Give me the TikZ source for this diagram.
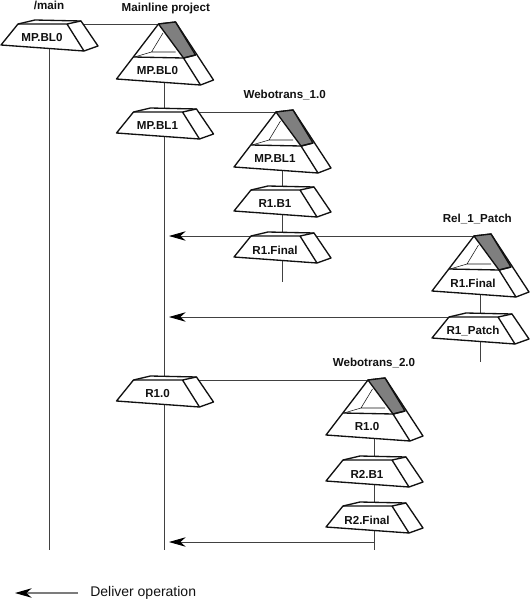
\documentclass[tikz,border=0pt]{standalone}
\usepackage{fontspec}
\setmainfont{Liberation Sans}
\usetikzlibrary{arrows.meta,positioning,backgrounds}
\definecolor{ink}{HTML}{111111}
\definecolor{wedge}{HTML}{7F7F7F}
\tikzset{
 outline/.style={draw=ink,line width=1pt,line join=round,fill=white},
 link/.style={draw=ink!80,line width=.6pt},
 deliver/.style={link,-{Stealth[length=4.4mm,width=2.5mm,inset=1.4mm,color=black]}},
 tag/.style={font=\fontsize{8.7}{10}\selectfont\bfseries,text=ink,inner sep=0pt},
 title/.style={tag,above=8.5pt},
 blbox/.pic={
  \draw[outline] (-31,0)--(-14,-4)--(32,-3)--(49,22)--(35,27)--(-48,21)--cycle;
  \draw[outline,fill=none] (-31,0)--(18,0)--(35,27) (18,0)--(32,-3);
  \node[tag] (-label) at (-7,14) {#1};
  \coordinate (-side) at (28,0);
  \coordinate (-west) at (-31,0);
  \coordinate (-stem) at (0,0);
 },
 stream/.pic={
  \draw[outline] (-6,-33)--(11,-35)--(49,23)--(36,28)--(-48,22)--cycle;
  \draw[draw=ink,line width=1pt,fill=wedge,line join=round] (-6,-33)--(11,-35)--(31,-2)--(19,1)--cycle;
  \draw[ink,line width=.4pt] (-30,0)--(-13,-5)--(-1.5,-24) (-13,-5)--(11,-5);
  \draw[outline,fill=none] (-31,0)--(19,1)--(36,28) (19,1)--(31,-2);
  \node[tag] (-label) at (-7,14) {#1};
  \coordinate (-apex) at (-6,-33);
  \coordinate (-top) at (0,-33);
  \coordinate (-stem) at (0,0);
 }
}
\begin{document}
\begin{tikzpicture}[x=.75pt,y=-.75pt]
 \useasboundingbox (0,0) rectangle (531,600);
 % main stream
 \pic (main) at (49,24) {blbox=MP.BL0};
 \pic (ml) at (164.5,57) {stream=MP.BL0};
 \pic (bla) at (164.5,112) {blbox=MP.BL1};
 \pic (blb) at (164.5,380) {blbox=R1.0};
 \node[title,above=10.5pt of main-stem] (mainname) {/main};
 \node[title,above=7.5pt of ml-top,xshift=1pt] (mlname) {Mainline project};
 % first release
 \pic (web) at (282,145) {stream=MP.BL1};
 \pic (rb) at (282,190) {blbox=R1.B1};
 \pic (rf) at (282,236) {blbox=R1.Final};
 \node[title,above=9pt of web-top,xshift=2pt] (webname) {Webotrans\_1.0};
 % patch
 \pic (rel) at (480,269) {stream=R1.Final};
 \pic (rp) at (480,317) {blbox=R1\_Patch};
 \node[title,above=8.5pt of rel-top,xshift=-2pt] (relname) {Rel\_1\_Patch};
 % second release
 \pic (webb) at (374,413) {stream=R1.0};
 \pic (rc) at (374,460) {blbox=R2.B1};
 \pic (rd) at (374,506) {blbox=R2.Final};
 \node[title,above=9pt of webb-top] (webbname) {Webotrans\_2.0};
 % free ends
 \coordinate (mainend) at (49,550);
 \coordinate (mlend) at (164.5,550);
 \coordinate (rfend) at (282,282);
 \coordinate (rpend) at (480,362);
 \coordinate (rdend) at (374,550);
 \coordinate (hita) at (169,236);
 \coordinate (hitb) at (169,317);
 \coordinate (hitc) at (169,542);
 \coordinate (fromc) at (374,542);
 \coordinate (keya) at (78,593);
 \coordinate (keyb) at (15,593);
 \begin{scope}[on background layer]
  \draw[link] (main-stem)--(mainend);
  \draw[link] (ml-stem)--(mlend);
  \draw[link] (web-stem)--(rfend);
  \draw[link] (rel-stem)--(rpend);
  \draw[link] (webb-stem)--(rdend);
  \draw[link] (main-side)--(ml-apex);
  \draw[link] (bla-side)--(web-apex);
  \draw[link] (blb-side)--(webb-apex);
  \draw[deliver] (rel-apex)--(hita);
  \draw[deliver] (rp-west)--(hitb);
  \draw[deliver] (fromc)--(hitc);
 \end{scope}
 \draw[deliver,draw=ink!55,line width=.8pt] (keya)--(keyb);
 \node[font=\fontsize{10.5}{12}\selectfont,text=ink,right=9pt of keya,inner sep=0pt] (keytext) {Deliver operation};
\end{tikzpicture}
\end{document}
